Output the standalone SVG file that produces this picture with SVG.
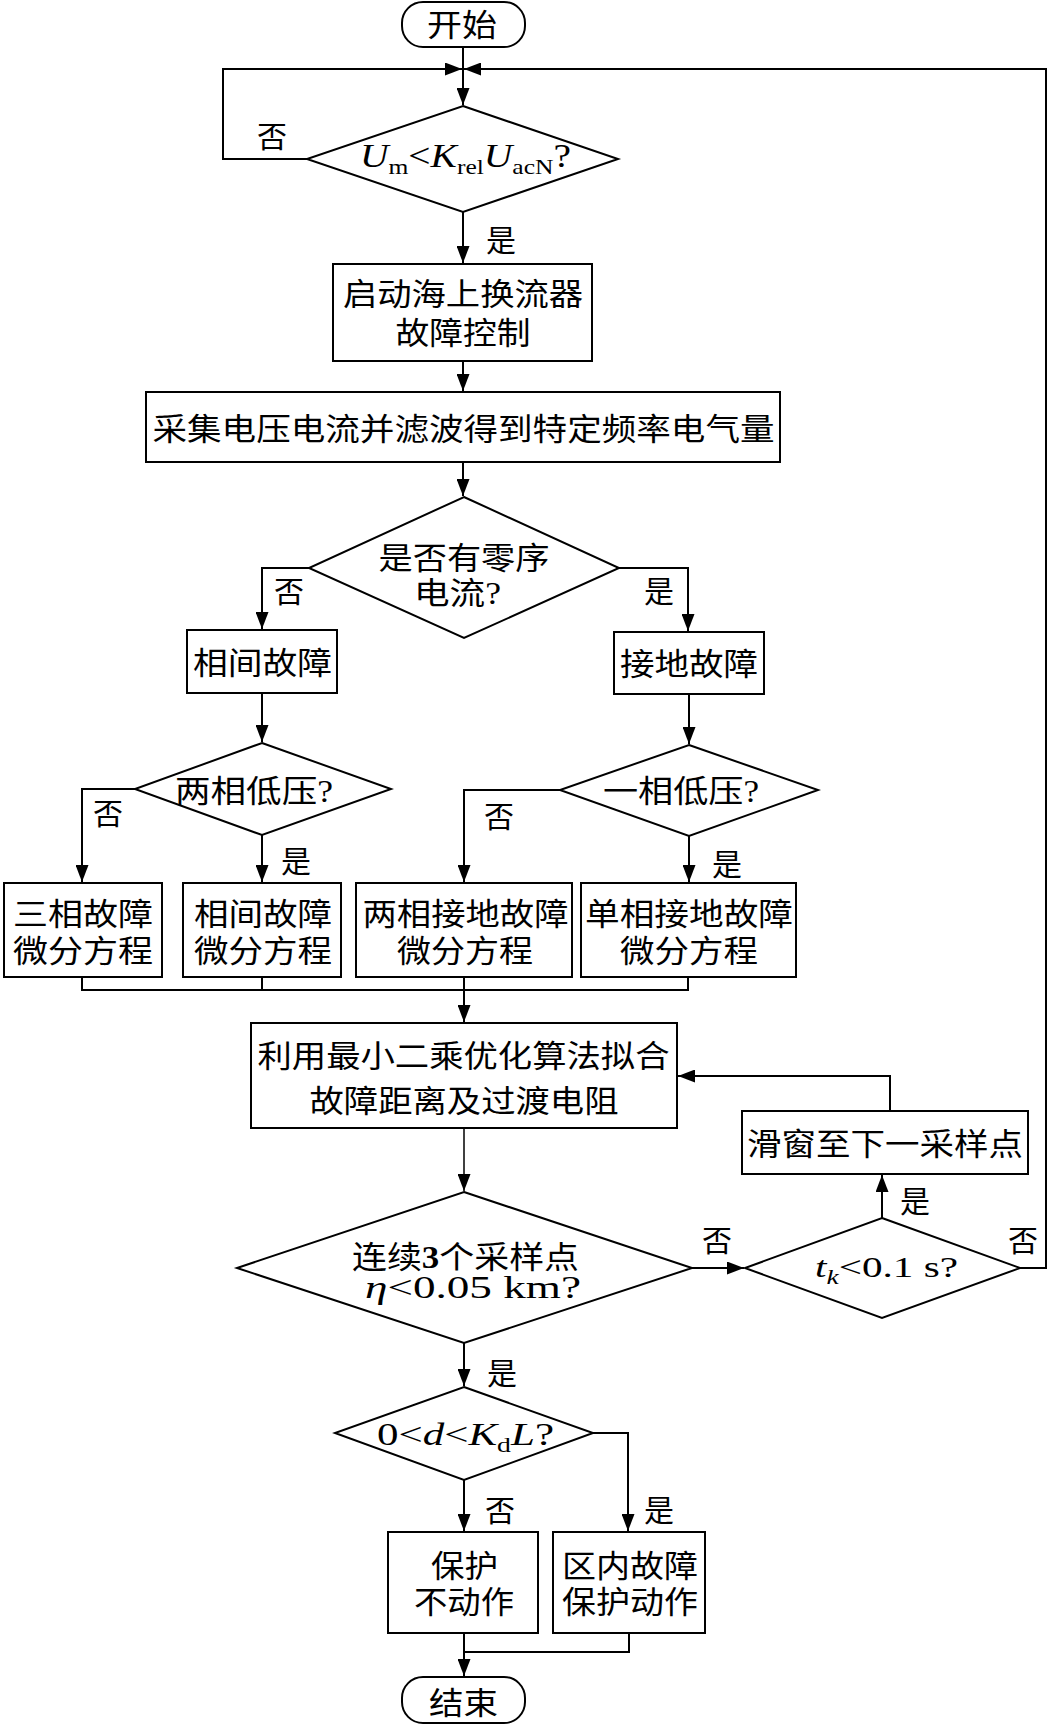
<svg xmlns="http://www.w3.org/2000/svg" width="1049" height="1726" viewBox="0 0 1049 1726">
<style>
.box{fill:#fff;stroke:#000;stroke-width:2}
.ln{fill:none;stroke:#000;stroke-width:2}
.thin{stroke-width:1.5}
.t{font-family:"Noto Sans CJK SC","Noto Sans CJK JP",sans-serif;font-size:31px;fill:#000;text-anchor:middle}
.ts{font-family:"Noto Sans CJK SC","Noto Sans CJK JP",sans-serif;font-size:31px;fill:#000}
.lb{font-family:"Noto Sans CJK SC","Noto Sans CJK JP",sans-serif;font-size:30px;fill:#000;text-anchor:middle}
.m{font-family:"Liberation Serif","Times New Roman",serif;fill:#000}
.i{font-style:italic}
</style>
<defs>
<marker id="ah" markerUnits="userSpaceOnUse" markerWidth="18" markerHeight="13" refX="17" refY="6.5" orient="auto">
<path d="M0,0 L17,6.5 L0,13 z" fill="#000"/>
</marker>
</defs>
<rect width="1049" height="1726" fill="#fff"/>

<g id="connectors">
<path class="ln" d="M463,47 V105" marker-end="url(#ah)"/>
<path class="ln" d="M307,159 H223 V69 H462" marker-end="url(#ah)"/>
<path class="ln" d="M1020,1268 H1046 V69 H464" marker-end="url(#ah)"/>
<path class="ln" d="M463,212 V263" marker-end="url(#ah)"/>
<path class="ln" d="M463,361 V391" marker-end="url(#ah)"/>
<path class="ln" d="M463,462 V496" marker-end="url(#ah)"/>
<path class="ln" d="M309,568 H262 V629" marker-end="url(#ah)"/>
<path class="ln" d="M619,568 H688 V631" marker-end="url(#ah)"/>
<path class="ln" d="M262,693 V742" marker-end="url(#ah)"/>
<path class="ln" d="M689,694 V744" marker-end="url(#ah)"/>
<path class="ln" d="M135,789 H82 V882" marker-end="url(#ah)"/>
<path class="ln" d="M262,835 V882" marker-end="url(#ah)"/>
<path class="ln" d="M560,790 H464 V882" marker-end="url(#ah)"/>
<path class="ln" d="M689,836 V882" marker-end="url(#ah)"/>
<path class="ln" d="M82,977 V990 H688 V977 M262,977 V990 M464,977 V990"/>
<path class="ln" d="M464,990 V1022" marker-end="url(#ah)"/>
<path class="ln thin" d="M464,1128 V1191" marker-end="url(#ah)"/>
<path class="ln" d="M692,1268 H744" marker-end="url(#ah)"/>
<path class="ln" d="M882,1218 V1175" marker-end="url(#ah)"/>
<path class="ln" d="M890,1111 V1076 H678" marker-end="url(#ah)"/>
<path class="ln" d="M464,1343 V1386" marker-end="url(#ah)"/>
<path class="ln" d="M464,1480 V1531" marker-end="url(#ah)"/>
<path class="ln" d="M593,1433 H628 V1531" marker-end="url(#ah)"/>
<path class="ln" d="M464,1633 V1676" marker-end="url(#ah)"/>
<path class="ln" d="M629,1633 V1652 H464"/>
</g>

<g id="start">
<rect class="box" x="402" y="2" width="123" height="45" rx="21"/>
<text class="t" x="462" y="36" textLength="70" lengthAdjust="spacingAndGlyphs">开始</text>
</g>

<g id="d1">
<polygon class="box" points="463,106 618,159 463,212 307,159"/>
<text class="m" x="360" y="167" font-size="34" textLength="211" lengthAdjust="spacingAndGlyphs"><tspan class="i">U</tspan><tspan font-size="22" dy="7">m</tspan><tspan dy="-7">&lt;</tspan><tspan class="i">K</tspan><tspan font-size="22" dy="7">rel</tspan><tspan class="i" dy="-7">U</tspan><tspan font-size="22" dy="7">acN</tspan><tspan dy="-7">?</tspan></text>
</g>

<g id="b2">
<rect class="box" x="333" y="264" width="259" height="97"/>
<text class="t" x="463" y="305" textLength="240" lengthAdjust="spacingAndGlyphs">启动海上换流器</text>
<text class="t" x="463" y="344" textLength="135" lengthAdjust="spacingAndGlyphs">故障控制</text>
</g>

<g id="b3">
<rect class="box" x="146" y="392" width="634" height="70"/>
<text class="t" x="463.5" y="440" textLength="622" lengthAdjust="spacingAndGlyphs">采集电压电流并滤波得到特定频率电气量</text>
</g>

<g id="d2">
<polygon class="box" points="464,497 619,568 464,638 309,568"/>
<text class="t" x="464" y="569" textLength="171" lengthAdjust="spacingAndGlyphs">是否有零序</text>
<text class="ts" x="414" y="604" textLength="87" lengthAdjust="spacingAndGlyphs">电流<tspan class="m">?</tspan></text>
</g>

<g id="b_xj">
<rect class="box" x="187" y="630" width="150" height="63"/>
<text class="t" x="262.5" y="674" textLength="139" lengthAdjust="spacingAndGlyphs">相间故障</text>
</g>

<g id="b_jd">
<rect class="box" x="614" y="632" width="150" height="62"/>
<text class="t" x="689" y="675" textLength="138" lengthAdjust="spacingAndGlyphs">接地故障</text>
</g>

<g id="d3">
<polygon class="box" points="262,743 391,789 262,835 135,789"/>
<text class="ts" x="175" y="802" textLength="158" lengthAdjust="spacingAndGlyphs">两相低压<tspan class="m">?</tspan></text>
</g>

<g id="d4">
<polygon class="box" points="689,745 818,790 689,836 560,790"/>
<text class="ts" x="603" y="802" textLength="156" lengthAdjust="spacingAndGlyphs">一相低压<tspan class="m">?</tspan></text>
</g>

<g id="bA">
<rect class="box" x="4" y="883" width="158" height="94"/>
<text class="t" x="83" y="925" textLength="140" lengthAdjust="spacingAndGlyphs">三相故障</text>
<text class="t" x="83" y="962" textLength="140" lengthAdjust="spacingAndGlyphs">微分方程</text>
</g>

<g id="bB">
<rect class="box" x="183" y="883" width="158" height="94"/>
<text class="t" x="263" y="925" textLength="138" lengthAdjust="spacingAndGlyphs">相间故障</text>
<text class="t" x="263" y="962" textLength="138" lengthAdjust="spacingAndGlyphs">微分方程</text>
</g>

<g id="bC">
<rect class="box" x="356" y="883" width="216" height="94"/>
<text class="t" x="465.5" y="925" textLength="206" lengthAdjust="spacingAndGlyphs">两相接地故障</text>
<text class="t" x="465" y="962" textLength="136" lengthAdjust="spacingAndGlyphs">微分方程</text>
</g>

<g id="bD">
<rect class="box" x="581" y="883" width="215" height="94"/>
<text class="t" x="689" y="925" textLength="208" lengthAdjust="spacingAndGlyphs">单相接地故障</text>
<text class="t" x="689" y="962" textLength="138" lengthAdjust="spacingAndGlyphs">微分方程</text>
</g>

<g id="b_fit">
<rect class="box" x="251" y="1023" width="426" height="105"/>
<text class="t" x="463.5" y="1067" textLength="412" lengthAdjust="spacingAndGlyphs">利用最小二乘优化算法拟合</text>
<text class="t" x="464" y="1112" textLength="309" lengthAdjust="spacingAndGlyphs">故障距离及过渡电阻</text>
</g>

<g id="b_slide">
<rect class="box" x="742" y="1111" width="286" height="63"/>
<text class="t" x="885" y="1155" textLength="276" lengthAdjust="spacingAndGlyphs">滑窗至下一采样点</text>
</g>

<g id="d5">
<polygon class="box" points="464,1192 692,1268 464,1343 237,1268"/>
<text class="t" x="465.5" y="1268" textLength="227" lengthAdjust="spacingAndGlyphs">连续<tspan class="m" font-weight="bold">3</tspan>个采样点</text>
<text class="m" x="365" y="1298" font-size="31" textLength="216" lengthAdjust="spacingAndGlyphs"><tspan class="i">η</tspan>&lt;0.05 km?</text>
</g>

<g id="d6">
<polygon class="box" points="882,1218 1020,1268 882,1318 745,1268"/>
<text class="m" x="815" y="1277" font-size="30" textLength="143" lengthAdjust="spacingAndGlyphs"><tspan class="i">t</tspan><tspan class="i" font-size="20" dy="7">k</tspan><tspan dy="-7">&lt;0.1 s?</tspan></text>
</g>

<g id="d7">
<polygon class="box" points="464,1387 593,1433 464,1480 335,1433"/>
<text class="m" x="377" y="1445" font-size="31" textLength="177" lengthAdjust="spacingAndGlyphs">0&lt;<tspan class="i">d</tspan>&lt;<tspan class="i">K</tspan><tspan font-size="20" dy="7">d</tspan><tspan class="i" dy="-7">L</tspan>?</text>
</g>

<g id="b_no">
<rect class="box" x="388" y="1532" width="150" height="101"/>
<text class="t" x="464.5" y="1577" textLength="67" lengthAdjust="spacingAndGlyphs">保护</text>
<text class="t" x="464" y="1613" textLength="100" lengthAdjust="spacingAndGlyphs">不动作</text>
</g>

<g id="b_yes">
<rect class="box" x="553" y="1532" width="152" height="101"/>
<text class="t" x="630" y="1577" textLength="136" lengthAdjust="spacingAndGlyphs">区内故障</text>
<text class="t" x="630" y="1613" textLength="136" lengthAdjust="spacingAndGlyphs">保护动作</text>
</g>

<g id="end">
<rect class="box" x="402" y="1677" width="123" height="46" rx="21"/>
<text class="t" x="463.5" y="1714" textLength="69" lengthAdjust="spacingAndGlyphs">结束</text>
</g>

<g id="labels">
<text class="lb" x="272" y="147">否</text>
<text class="lb" x="501" y="251">是</text>
<text class="lb" x="289" y="602">否</text>
<text class="lb" x="659" y="602">是</text>
<text class="lb" x="108" y="824">否</text>
<text class="lb" x="296" y="872">是</text>
<text class="lb" x="499" y="827">否</text>
<text class="lb" x="727" y="875">是</text>
<text class="lb" x="717" y="1251">否</text>
<text class="lb" x="915" y="1212">是</text>
<text class="lb" x="1023" y="1251">否</text>
<text class="lb" x="502" y="1384">是</text>
<text class="lb" x="500" y="1521">否</text>
<text class="lb" x="659" y="1521">是</text>
</g>
</svg>
